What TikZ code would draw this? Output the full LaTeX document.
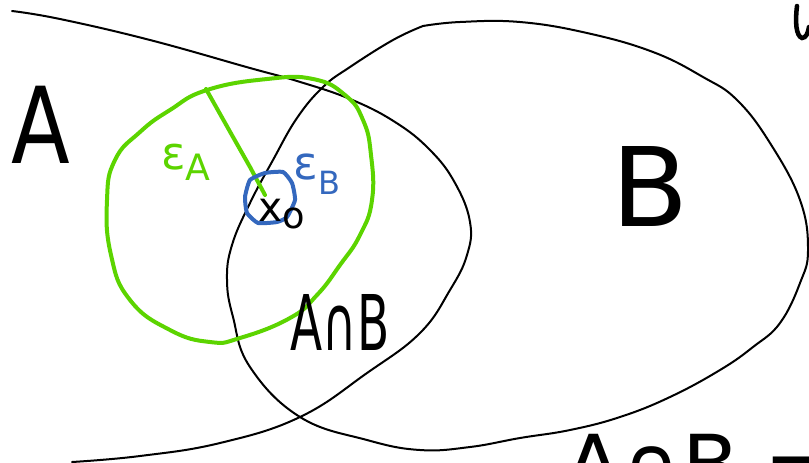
\documentclass[tikz,border=0pt]{standalone}
\usepackage{fontspec}
\setmainfont{DejaVu Sans}
\usepackage{graphicx}
\definecolor{pengreen}{RGB}{92,212,0}
\definecolor{penblue}{RGB}{52,104,190}
\tikzset{
  setline/.style={line width=1.5pt, line cap=round, line join=round},
  ballA/.style={line width=3pt, draw=pengreen, line cap=round, line join=round},
  ballB/.style={line width=3pt, draw=penblue, line cap=round, line join=round},
  lbl/.style={inner sep=0pt, outer sep=0pt}
}
\begin{document}
\begin{tikzpicture}[x=0.75pt, y=-0.75pt]
\useasboundingbox (0,0) rectangle (809,462);
\clip (0,0) rectangle (809,462);

% set A
\draw[setline] plot[smooth, tension=0.7] coordinates {
  (12,11) (60,19) (150,40) (250,68) (297,81) (350,99) (395,122) (430,150)
  (455,183) (470,222) (467,255) (450,290) (420,333) (367,373) (300,417)
  (220,443) (140,456) (72,462)};

% set B
\draw[setline] plot[smooth, tension=0.7] coordinates {
  (423,26) (460,22) (520,22) (587,33) (653,52) (703,77) (737,100) (770,143)
  (800,200) (808,250) (800,283) (780,323) (753,347) (720,370) (670,397)
  (620,417) (570,430) (520,438) (470,447) (420,450) (367,440) (300,417)
  (250,367) (233,317) (227,280) (232,245) (250,203) (273,160) (297,118)
  (323,87) (350,67) (393,40) (423,26)};

% epsilon ball around x0 inside A
\draw[ballA] plot[smooth cycle, tension=0.8] coordinates {
  (107,200) (115,160) (140,132) (170,110) (207,90) (267,79) (313,79)
  (345,95) (363,120) (371,155) (372,200) (360,235) (340,265) (317,295)
  (290,318) (240,338) (210,342) (170,330) (130,300) (111,255)};
% its radius
\coordinate (rA) at (206,89);
\coordinate (x0) at (265,195);
\draw[ballA] (rA) -- (233,137) -- (250,167) -- (x0);

% epsilon ball around x0 inside B
\draw[ballB] plot[smooth cycle, tension=0.3] coordinates {
  (250,180) (265,173) (283,172) (292,183) (295,200) (287,217) (277,222)
  (258,223) (247,213) (245,197)};

% labels
\node[lbl] (labA) at (41,125) {\resizebox{44pt}{58pt}{A}};
\node[lbl] (labB) at (650,186) {\resizebox{58pt}{60pt}{B}};
\node[lbl] (labAB) at (340,322) {\resizebox{74pt}{42pt}{A∩B}};
\node[lbl, text=pengreen] (labepsA) at (186,162)
  {\resizebox{37pt}{!}{ε\raisebox{-0.45ex}{\footnotesize A}}};
\node[lbl, text=penblue] (labepsB) at (317,174)
  {\resizebox{35pt}{!}{ε\raisebox{-0.6ex}{\scriptsize B}}};
\node[lbl] (labx) at (282,214)
  {\resizebox{35pt}{!}{x\raisebox{-0.35ex}{\small o}}};
\node[lbl, anchor=base west, font=\fontsize{62}{70}\selectfont]
  (labbottom) at (565,494) {A∩B =};

% stroke of a word cut at the right edge
\draw[line width=3.4pt, line cap=round] (797,6) .. controls (795,22) and (796,36) .. (802,38)
  .. controls (806,38) and (808,33) .. (809,27);
\end{tikzpicture}
\end{document}
